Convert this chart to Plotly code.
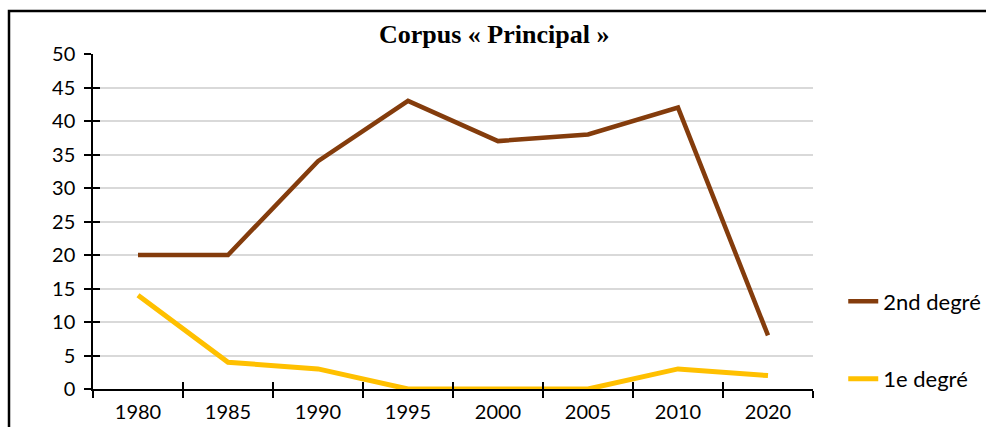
import plotly.graph_objects as go

years = ["1980", "1985", "1990", "1995", "2000", "2005", "2010", "2020"]
second_degre = [20, 20, 34, 43, 37, 38, 42, 8]
premier_degre = [14, 4, 3, 0, 0, 0, 3, 2]
title_text = "Corpus « Principal »"

FONT = "Lato"
fig = go.Figure()
fig.add_trace(go.Scatter(x=years, y=second_degre, mode="lines", name="2nd degré",
                         line=dict(color="#843C0C", width=4.5), legendgroup="a"))
fig.add_trace(go.Scatter(x=years, y=premier_degre, mode="lines", name="1e degré",
                         line=dict(color="#FFC000", width=5), legendgroup="b"))
# invisible trace for inner ticks
fig.add_trace(go.Scatter(x=years, y=second_degre, mode="lines", xaxis="x2", yaxis="y2",
                         line=dict(width=0), showlegend=False, hoverinfo="skip", opacity=0))

axis_common = dict(showline=True, linecolor="black", linewidth=1.5,
                   tickcolor="black", tickwidth=1.5, ticklen=7)

fig.update_layout(
    width=986, height=427,
    margin=dict(l=93, r=173, t=54, b=38, autoexpand=False),
    paper_bgcolor="white", plot_bgcolor="white",
    font=dict(family=FONT, size=20, color="black"),
    xaxis=dict(type="category", range=[-0.5, 7.5], tickson="boundaries", ticks="outside",
               showgrid=False, zeroline=False, tickfont=dict(size=20), ticklabelstandoff=4,
               **axis_common),
    xaxis2=dict(type="category", range=[-0.5, 7.5], tickson="boundaries", ticks="inside",
                overlaying="x", matches="x", showticklabels=False, showgrid=False,
                showline=False, tickcolor="black", tickwidth=1.5, ticklen=7),
    yaxis=dict(range=[0, 50], dtick=5, ticks="outside", showgrid=True, gridcolor="#d9d9d9",
               gridwidth=1.5, zeroline=False, tickfont=dict(size=20), ticklabelstandoff=5,
               **axis_common),
    yaxis2=dict(range=[0, 50], dtick=5, ticks="inside", overlaying="y", matches="y",
                showticklabels=False, showgrid=False, showline=False,
                tickcolor="black", tickwidth=1.5, ticklen=7),
    legend=dict(x=1.042, y=0.145, xanchor="left", yanchor="middle", tracegroupgap=46,
                font=dict(family=FONT, size=22), bgcolor="rgba(0,0,0,0)"),
    showlegend=True,
)

fig.add_annotation(text="<b>" + title_text + "</b>", xref="paper", yref="paper",
                   x=(494 - 93) / 720, y=(389 - 34) / 335, xanchor="center", yanchor="middle",
                   showarrow=False, bgcolor="white", borderpad=5,
                   font=dict(family="Liberation Serif", size=26, color="black"))

# outer frame (extends beyond visible crop)
fig.add_shape(type="rect", xref="paper", yref="paper",
              x0=(9 - 93) / 720, x1=(1010 - 93) / 720,
              y0=(389 - 450) / 335, y1=(389 - 11) / 335,
              line=dict(color="black", width=2.5), fillcolor="rgba(0,0,0,0)", layer="above")

fig.write_html("out.html", config={"displayModeBar": False},
               post_script="document.body.style.margin='0';")
